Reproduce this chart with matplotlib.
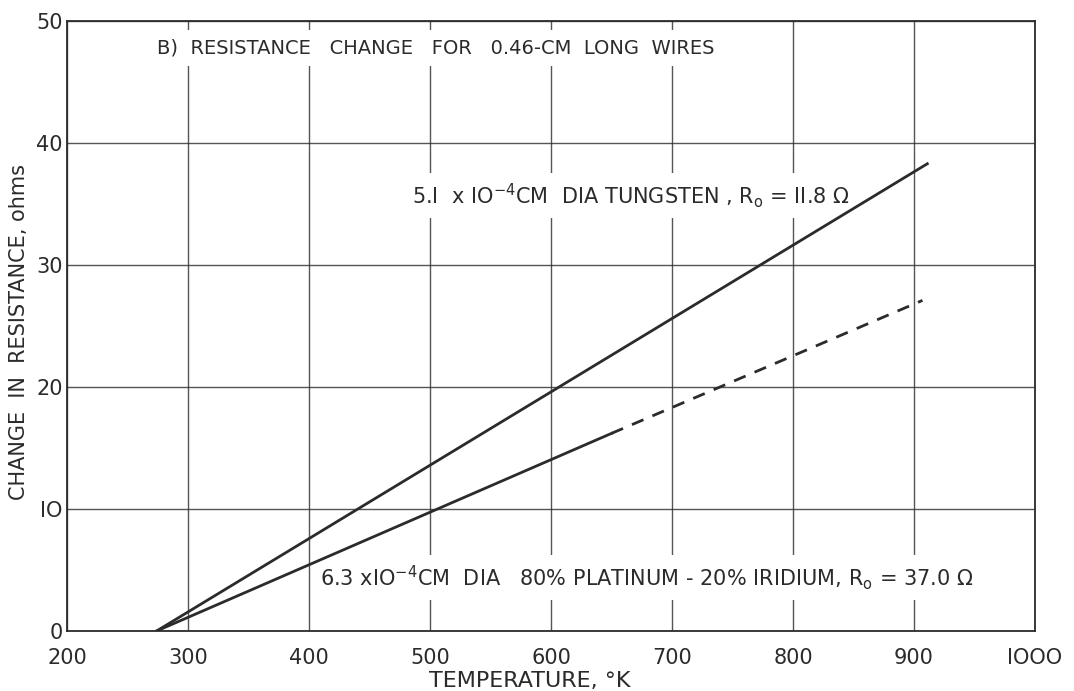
import matplotlib.pyplot as plt

# resistance change vs temperature, 0.46 cm long wires
tungsten_temp = [274, 911]
tungsten_dr = [0, 38.3]

platinum_temp = [274, 650]
platinum_dr = [0, 16.2]
platinum_ext_temp = [650, 907]
platinum_ext_dr = [16.2, 27.1]

x_ticks = [200, 300, 400, 500, 600, 700, 800, 900, 1000]
y_ticks = [0, 10, 20, 30, 40, 50]

ink = "#2b2b2b"
plt.rcParams["font.family"] = "DejaVu Sans"

fig = plt.figure(figsize=(10.74, 6.91), dpi=100)
ax = fig.add_axes([0.0624, 0.0868, 0.9013, 0.8828])

ax.plot(tungsten_temp, tungsten_dr, color=ink, lw=2.0, zorder=4)
ax.plot(platinum_temp, platinum_dr, color=ink, lw=2.0, zorder=4)
ax.plot(platinum_ext_temp, platinum_ext_dr, color=ink, lw=2.0,
        dashes=(4.5, 3.5), zorder=4)

ax.set_xlim(200, 1000)
ax.set_ylim(0, 50)
ax.set_xticks(x_ticks)
ax.set_yticks(y_ticks)
ax.set_xticklabels(["200", "300", "400", "500", "600", "700", "800", "900", "IOOO"])
ax.set_yticklabels(["0", "IO", "20", "30", "40", "50"])
ax.tick_params(length=0, labelsize=15, colors=ink)
ax.tick_params(axis="x", pad=12)
ax.tick_params(axis="y", pad=3)
ax.grid(True, color=ink, lw=1.0, alpha=0.8)
ax.set_axisbelow(True)
for s in ax.spines.values():
    s.set_color(ink)
    s.set_linewidth(1.3)

ax.set_xlabel("TEMPERATURE, °K", fontsize=16, color=ink)
ax.xaxis.set_label_coords(0.478, -0.065)
ax.set_ylabel("CHANGE  IN  RESISTANCE, ohms", fontsize=15, color=ink)
ax.yaxis.set_label_coords(-0.039, 0.49)

box = dict(facecolor="white", edgecolor="none", pad=6)
ax.text(274, 47.8, "B)  RESISTANCE   CHANGE   FOR   0.46-CM  LONG  WIRES",
        fontsize=14, color=ink, va="center", ha="left", bbox=box, zorder=3)
ax.text(485, 35.7, r"5.I  x IO$^{-4}$CM  DIA TUNGSTEN , R$_{\mathrm{o}}$ = II.8 $\Omega$",
        fontsize=15, color=ink, va="center", ha="left", bbox=box, zorder=3)
ax.text(409, 4.4,
        r"6.3 xIO$^{-4}$CM  DIA   80% PLATINUM - 20% IRIDIUM, R$_{\mathrm{o}}$ = 37.0 $\Omega$",
        fontsize=15, color=ink, va="center", ha="left", bbox=box, zorder=3)

fig.savefig("out.png", dpi=100)
